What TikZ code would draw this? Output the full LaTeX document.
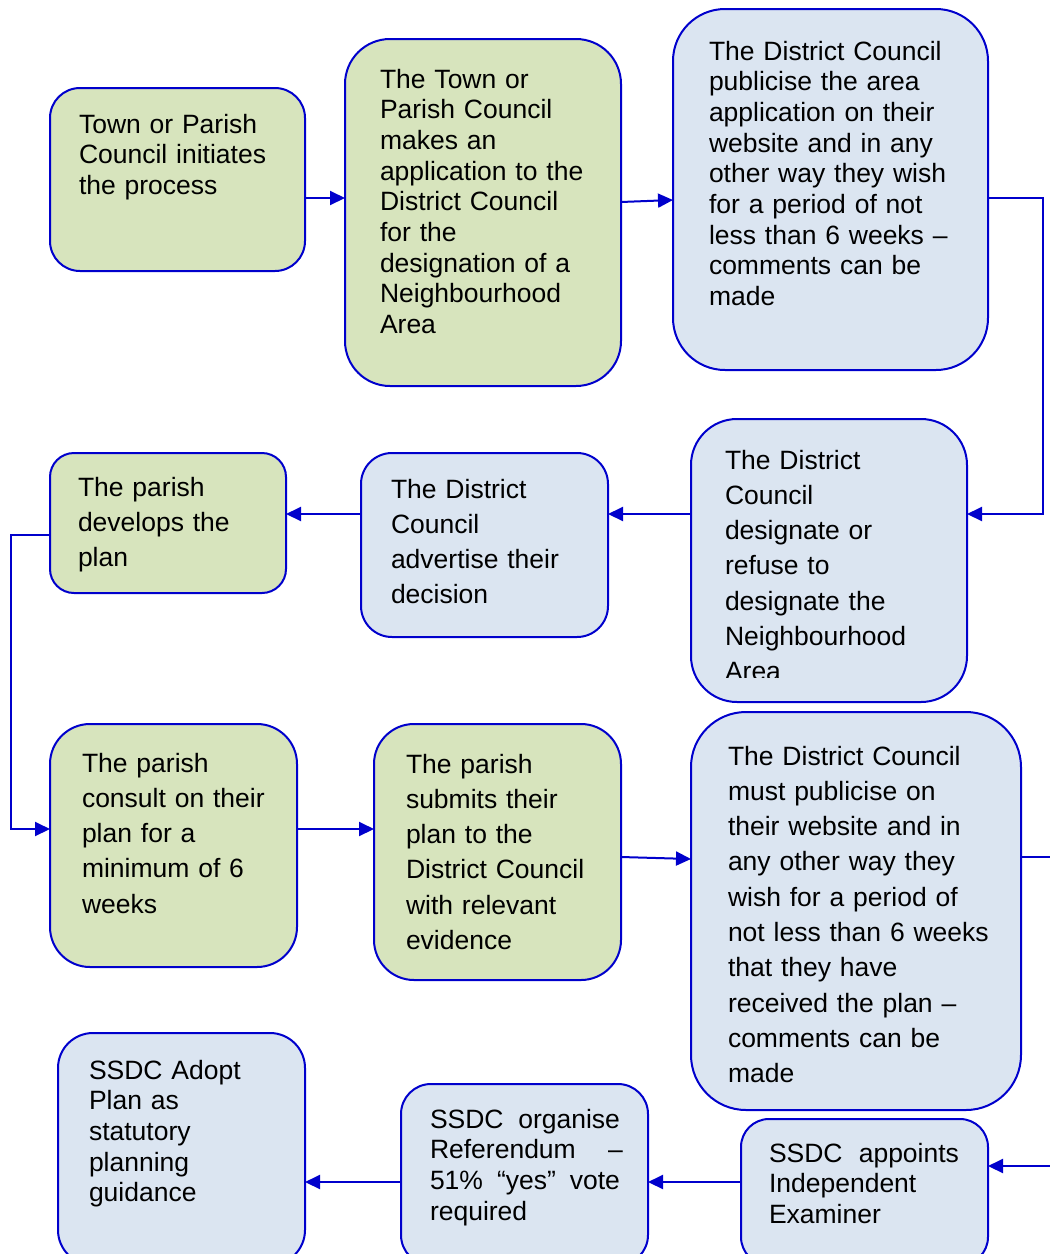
\documentclass[tikz,border=0pt]{standalone}
\usepackage{fontspec}
\setmainfont{Liberation Sans}
\usetikzlibrary{arrows.meta}
\definecolor{gfill}{HTML}{D7E4BD}
\definecolor{bfill}{HTML}{DBE5F1}
\definecolor{edge}{RGB}{0,0,204}
\tikzset{
  box/.style={draw=edge, line width=2pt, inner sep=0pt, outer sep=0pt, rectangle},
  gbox/.style={box, fill=gfill},
  bbox/.style={box, fill=bfill},
  txt/.style={anchor=base west, inner sep=0pt, outer sep=0pt, text width=320pt, align=left},
  txtA/.style={txt, font=\fontsize{26.5}{30.7}\selectfont},
  txtB/.style={txt, font=\fontsize{26.5}{35.3}\selectfont},
  conn/.style={draw=edge, line width=2pt, -{Triangle[length=15pt,width=14pt]}},
}
\begin{document}
\begin{tikzpicture}[x=1pt,y=-1pt]
\useasboundingbox (0,0) rectangle (1050,1254);
% boxes
\node[gbox, minimum width=255pt, minimum height=183pt, rounded corners=30pt] (b1) at (177.5,179.5) {};
\node[gbox, minimum width=276pt, minimum height=347pt, rounded corners=45pt] (b2) at (483,212.5) {};
\node[bbox, minimum width=315pt, minimum height=361pt, rounded corners=52pt] (b3) at (830.5,189.5) {};
\node[bbox, minimum width=276pt, minimum height=283pt, rounded corners=46pt] (b4) at (829,560.5) {};
\node[bbox, minimum width=247pt, minimum height=184pt, rounded corners=31pt] (b5) at (484.5,545) {};
\node[gbox, minimum width=236pt, minimum height=140pt, rounded corners=24pt] (b6) at (168,523) {};
\node[gbox, minimum width=247pt, minimum height=243pt, rounded corners=40pt] (b7) at (173.5,845.5) {};
\node[gbox, minimum width=247pt, minimum height=256pt, rounded corners=40pt] (b8) at (497.5,852) {};
\node[bbox, minimum width=330pt, minimum height=398pt, rounded corners=55pt] (b9) at (856,911) {};
\node[bbox, minimum width=247pt, minimum height=146pt, rounded corners=28pt] (b10) at (864.5,1192) {};
\node[bbox, minimum width=247pt, minimum height=181pt, rounded corners=30pt] (b11) at (524.5,1174.5) {};
\node[bbox, minimum width=247pt, minimum height=232pt, rounded corners=35pt] (b12) at (181.5,1149) {};
% texts
\node[txtA] (t1) at (79,133) {Town or Parish\\Council initiates\\the process};
\node[txtA] (t2) at (380,88) {The Town or\\Parish Council\\makes an\\application to the\\District Council\\for the\\designation of a\\Neighbourhood\\Area};
\node[txtA] (t3) at (709,60) {The District Council\\publicise the area\\application on their\\website and in any\\other way they wish\\for a period of not\\less than 6 weeks --\\comments can be\\made};
\begin{scope}
\clip (691,419) rectangle (967,677);
\node[txtB] (t4) at (725,469) {The District\\Council\\designate or\\refuse to\\designate the\\Neighbourhood\\Area};
\end{scope}
\node[txtB] (t5) at (391,498) {The District\\Council\\advertise their\\decision};
\node[txtB] (t6) at (78,496) {The parish\\develops the\\plan};
\node[txtB] (t7) at (82,772) {The parish\\consult on their\\plan for a\\minimum of 6\\weeks};
\node[txtB] (t8) at (406,773) {The parish\\submits their\\plan to the\\District Council\\with relevant\\evidence};
\node[txtB] (t9) at (728,765) {The District Council\\must publicise on\\their website and in\\any other way they\\wish for a period of\\not less than 6 weeks\\that they have\\received the plan --\\comments can be\\made};
\node[txtA] (t10) at (769,1162) {\makebox[190pt]{SSDC\hfill appoints}\\Independent\\Examiner};
\node[txtA] (t11) at (430,1128) {\makebox[190pt]{SSDC\hfill organise}\\\makebox[193pt]{Referendum\hfill --}\\\makebox[190pt]{51\%\hfill “yes”\hfill vote}\\required};
\node[txtA] (t12) at (89,1079) {SSDC Adopt\\Plan as\\statutory\\planning\\guidance};
% bend points
\coordinate (k1) at (1043,198);
\coordinate (k2) at (1043,514);
\coordinate (k3) at (11,535);
\coordinate (k4) at (11,829);
\coordinate (k5) at (1070,857);
\coordinate (k6) at (1070,1166);
% connectors
\draw[conn] ([yshift=-18.5pt]b1.east) -- ([yshift=14.5pt]b2.west);
\draw[conn] ([yshift=10.5pt]b2.east) -- ([yshift=-10.5pt]b3.west);
\draw[conn] ([yshift=-8.5pt]b3.east) -- (k1) -- (k2) -- ([yshift=46.5pt]b4.east);
\draw[conn] ([yshift=46.5pt]b4.west) -- ([yshift=31pt]b5.east);
\draw[conn] ([yshift=31pt]b5.west) -- ([yshift=9pt]b6.east);
\draw[conn] ([yshift=-12pt]b6.west) -- (k3) -- (k4) -- ([yshift=16.5pt]b7.west);
\draw[conn] ([yshift=16.5pt]b7.east) -- ([yshift=23pt]b8.west);
\draw[conn] ([yshift=-5pt]b8.east) -- ([yshift=52pt]b9.west);
\draw[conn] ([yshift=54pt]b9.east) -- (k5) -- (k6) -- ([yshift=26pt]b10.east);
\draw[conn] ([yshift=10pt]b10.west) -- ([yshift=-7.5pt]b11.east);
\draw[conn] ([yshift=-7.5pt]b11.west) -- ([yshift=-33pt]b12.east);
\end{tikzpicture}
\end{document}
